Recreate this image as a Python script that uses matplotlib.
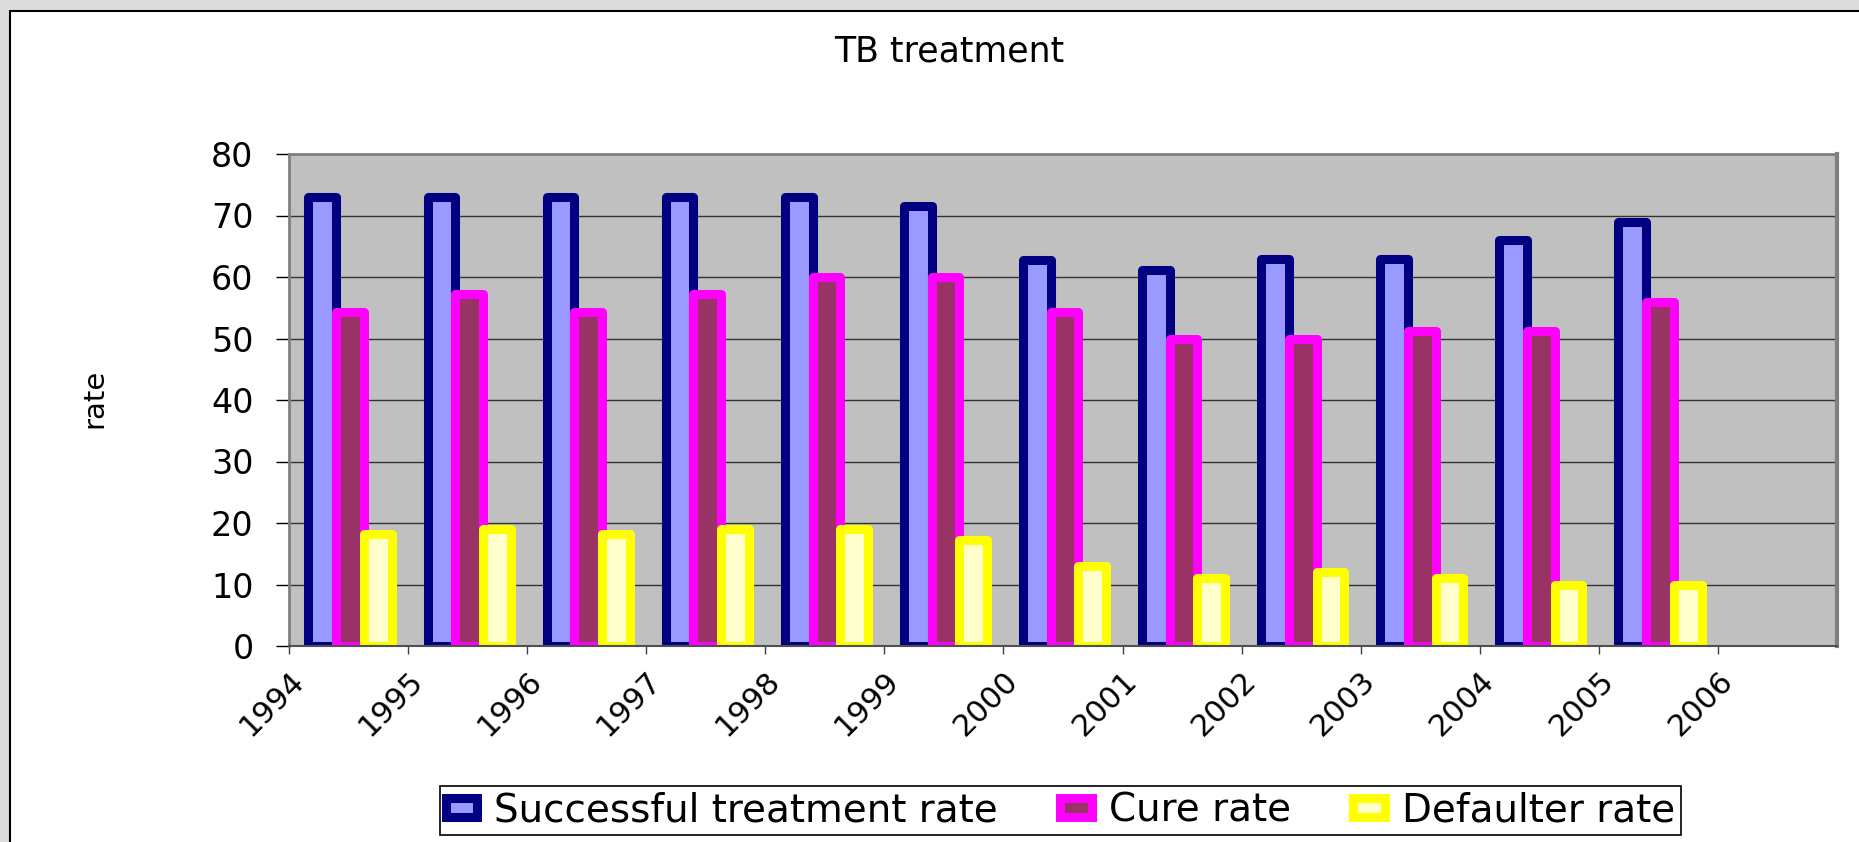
import numpy as np
import matplotlib
matplotlib.use('Agg')
import matplotlib.pyplot as plt
from matplotlib.patches import Rectangle

# data
years = ['1994', '1995', '1996', '1997', '1998', '1999', '2000',
         '2001', '2002', '2003', '2004', '2005', '2006']
successful = [73, 73, 73, 73, 73, 71.6, 62.8, 61.2, 63, 63, 66, 69]
cure = [54.3, 57.2, 54.3, 57.2, 60, 60, 54.3, 50, 50, 51.3, 51.3, 56]
defaulter = [18.2, 19, 18.2, 19, 19, 17.2, 13, 11.1, 12, 11.1, 10, 10]

plt.rcParams['font.family'] = ['DejaVu Sans']

W, H = 1859, 842
fig = plt.figure(figsize=(W / 100, H / 100), dpi=100)
fig.patch.set_facecolor('#dcdcdc')

# white chart area with black border (left / top visible)
fig.add_artist(Rectangle((10 / W, -0.05), 1.1, 1 - 11 / H + 0.05,
                         transform=fig.transFigure, facecolor='white',
                         edgecolor='black', linewidth=1.5, zorder=-10))

ax = fig.add_axes([289 / W, 1 - 646 / H, (1837 - 289) / W, (646 - 154) / H])
ax.set_facecolor('#c0c0c0')

x = np.arange(len(successful))
w = 0.233
ax.bar(x + 0.28, successful, w, color='#9999ff', edgecolor='#000080',
       linewidth=6.5, joinstyle='round', label='Successful treatment rate')
ax.bar(x + 0.513, cure, w, color='#993366', edgecolor='#ff00ff',
       linewidth=6.5, joinstyle='round', label='Cure rate')
ax.bar(x + 0.746, defaulter, w, color='#ffffcc', edgecolor='#ffff00',
       linewidth=6.5, joinstyle='round', label='Defaulter rate')

ax.set_xlim(0, len(years))
ax.set_ylim(0, 80)
ax.set_yticks(range(0, 81, 10))
ax.set_xticks(np.arange(len(years)))
ax.set_xticklabels(years, rotation=45, ha='right', va='top',
                   rotation_mode='anchor', fontsize=22)

ax.tick_params(axis='y', length=9.5, width=1, pad=16, labelsize=24, color='black')
ax.tick_params(axis='x', length=6, width=1, pad=8, color='#404040')

ax.yaxis.grid(True, color='#333333', linewidth=1)
ax.set_axisbelow(True)

for side in ['left', 'top', 'right']:
    ax.spines[side].set_color('#808080')
    ax.spines[side].set_linewidth(2)
ax.spines['right'].set_linewidth(3)
ax.spines['bottom'].set_color('#505050')
ax.spines['bottom'].set_linewidth(1.5)

fig.text(0.5108, 1 - 62 / H, 'TB treatment', ha='center', va='baseline', fontsize=25)
fig.text(94 / W, 1 - 398 / H, 'rate', rotation=90, ha='center', va='center', fontsize=21)

leg = fig.legend(loc='center', bbox_to_anchor=(0.5705, 1 - 810.5 / H), ncol=3,
                 fontsize=28, fancybox=False, framealpha=1, edgecolor='black',
                 borderpad=0.15, handlelength=0.8, handleheight=0.4,
                 handletextpad=0.45, columnspacing=1.6)
leg.get_frame().set_linewidth(1.2)

fig.savefig('out.png', dpi=100)
